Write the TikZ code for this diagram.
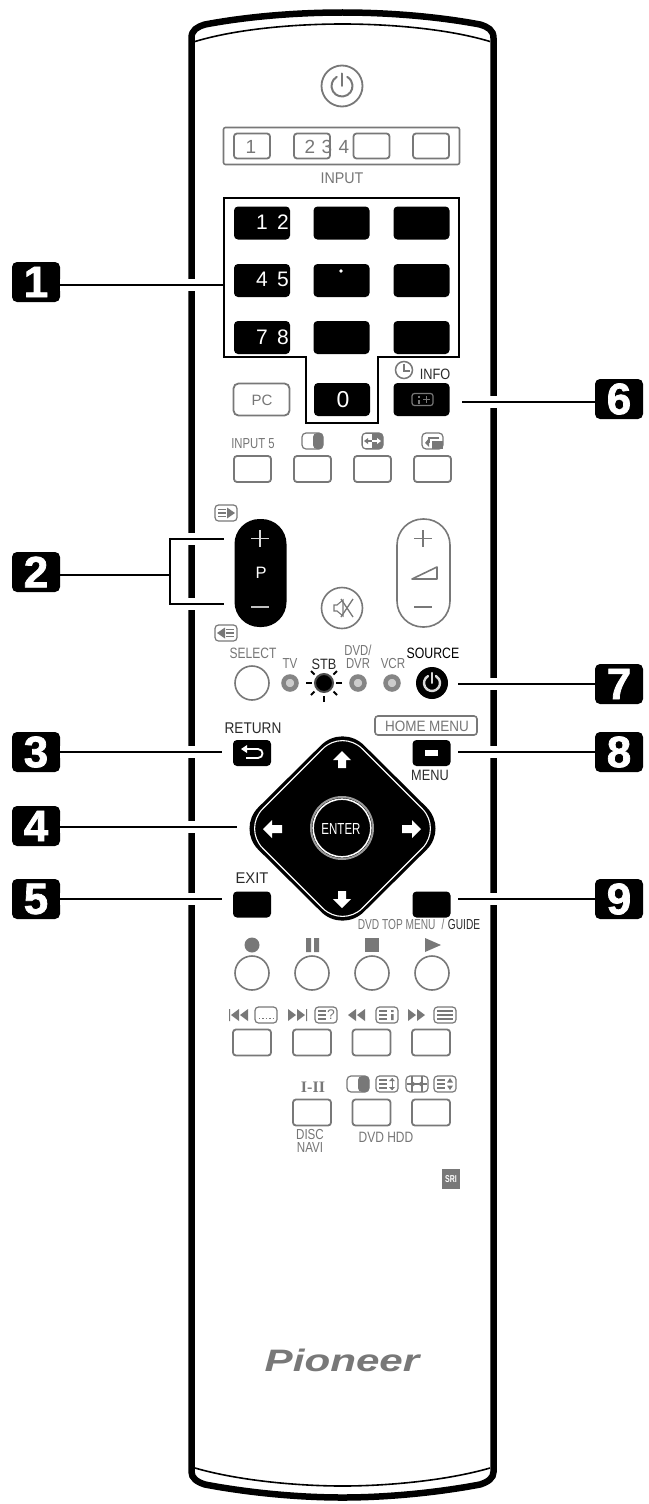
\documentclass[tikz,border=0pt]{standalone}
\usepackage{fontspec}
\usepackage{graphicx}
\setmainfont{Liberation Sans}
\newfontfamily\serifone{Liberation Serif}
\newfontfamily\heavy[FakeBold=1.6]{Liberation Sans Bold}
\definecolor{gk}{HTML}{787878}
\definecolor{gt}{HTML}{767676}
\definecolor{dk}{HTML}{2A2A2A}
\newcounter{tn}
\newcommand\tx[5]{\stepcounter{tn}\node[inner sep=0pt,text=#4] (t\arabic{tn}) at (#1) {\fontsize{#2}{#2}\selectfont\scalebox{#3}[1]{#5}};}
\newcommand\gbtn[5][]{\node[gbox,minimum width=#3pt,minimum height=#4pt,#1] (#2) at (#5) {};}
\newcommand\bbtn[5][]{\node[kbox,minimum width=#3pt,minimum height=#4pt,#1] (#2) at (#5) {};}
\newcommand\badge[3]{\node[badgebox] (#1) at (#2) {#3};}
\newcommand\powersym[5]{\begin{scope}[shift={(#1,#2)},x=1pt,y=1pt]
\draw[#4,line width=#5pt,line cap=round] (120:#3) arc[start angle=120,end angle=420,radius=#3pt];
\draw[#4,line width=#5pt,line cap=round] (0,0.1) -- (0,#3+2);
\end{scope}}
\newcommand\screen[3]{\begin{scope}[shift={(#1,#2)}]
\draw[gk,line width=1.2pt,rounded corners=3.5pt] (-11,-8) rectangle (11,8);
#3
\end{scope}}
\newcommand\lns{\draw[gk,line width=1.2pt] (-8,-4) -- (0,-4) (-8,0) -- (0,0) (-8,4) -- (0,4);}
\newcommand\fullns{\draw[gk,line width=1.2pt] (-8,-4) -- (8,-4) (-8,0) -- (8,0) (-8,4) -- (8,4);}
\tikzset{
 gbox/.style={draw=gk,line width=1.8pt,rounded corners=3pt,inner sep=0pt,fill=white},
 kbox/.style={fill=black,rounded corners=4pt,inner sep=0pt},
 badgebox/.style={fill=black,rounded corners=5pt,minimum width=48pt,minimum height=40pt,inner sep=0pt,text=white,font=\fontsize{44}{44}\selectfont\heavy},
 conn/.style={line width=2.4pt,black,preaction={draw=white,line width=12pt}},
 wire/.style={line width=2.4pt,black},
 led/.style={circle,draw=gk!90!white,line width=4.5pt,fill=black!20,minimum size=13pt,inner sep=0pt},
 digit/.style={inner sep=0pt,text=white,font=\fontsize{21}{21}\selectfont},
}
\begin{document}
\begin{tikzpicture}[x=1pt,y=-1pt]
\useasboundingbox (0,0) rectangle (648,1504);
\fill[white] (0,0) rectangle (648,1504);
% body
\draw[line width=6.5pt,black] (191.5,1472) -- (191.5,38) .. controls (191.5,30) and (197,27) .. (205,24.5) .. controls (250,16) and (300,12.5) .. (342.5,12.5) .. controls (385,12.5) and (435,16) .. (480,24.5) .. controls (488,27) and (493.5,30) .. (493.5,38) -- (493.5,1472) .. controls (493.5,1478) and (488,1482) .. (480,1484.5) .. controls (435,1493) and (385,1497.5) .. (342.5,1497.5) .. controls (300,1497.5) and (250,1493) .. (205,1484.5) .. controls (197,1482) and (191.5,1478) .. (191.5,1472) -- cycle;
\draw[line width=1.6pt,black] (195,41.5) .. controls (240,28) and (300,24) .. (342.5,24) .. controls (385,24) and (445,28) .. (490,41.5);
\draw[line width=1.6pt,black] (195,1468) .. controls (240,1481) and (300,1486) .. (342.5,1486) .. controls (385,1486) and (445,1481) .. (490,1468);
% badges
\badge{b1}{36,282}{1}
\badge{b2}{36,572}{2}
\badge{b3}{36,752}{3}
\badge{b4}{36,826}{4}
\badge{b5}{36,899}{5}
\badge{b6}{619,399}{6}
\badge{b7}{619,684}{7}
\badge{b8}{619,752}{8}
\badge{b9}{619,899}{9}
% connector targets
\coordinate (c1) at (225,285);
\coordinate (c2u) at (224,539);
\coordinate (c2d) at (224,604);
\coordinate (c2a) at (170,539);
\coordinate (c2b) at (170,604);
\coordinate (c2m) at (170,575);
\coordinate (c3) at (222,752);
\coordinate (c4) at (237,827);
\coordinate (c5) at (222,899);
\coordinate (c6) at (462,402);
\coordinate (c7) at (458,684);
\coordinate (c8) at (458,752);
\coordinate (c9) at (458,899);
\draw[conn] (b1.east |- c1) -- (c1);
\draw[conn] (c2a) -- (c2u);
\draw[conn] (c2b) -- (c2d);
\draw[wire] (170,537.8) -- (170,605.2);
\draw[wire] (b2.east |- c2m) -- (c2m);
\draw[conn] (b3.east |- c3) -- (c3);
\draw[conn] (b4.east |- c4) -- (c4);
\draw[conn] (b5.east |- c5) -- (c5);
\draw[conn] (c6) -- (b6.west |- c6);
\draw[conn] (c7) -- (b7.west |- c7);
\draw[conn] (c8) -- (b8.west |- c8);
\draw[conn] (c9) -- (b9.west |- c9);
% power
\node[circle,draw=gk,line width=1.8pt,minimum size=41pt,inner sep=0pt] (pw) at (342,86) {};
\powersym{342}{86}{10.5}{gk}{2}
% input
\node[draw=gk,line width=1.6pt,rounded corners=2pt,minimum width=236pt,minimum height=37pt,inner sep=0pt] (inputbox) at (341.5,146) {};
\gbtn{in1}{36}{25}{252,146}
\gbtn{in2}{36}{25}{312,146}
\gbtn{in3}{36}{25}{371.5,146}
\gbtn{in4}{36}{25}{431,146}
\tx{251,147}{19}{1}{gk}{1}
\tx{310,147}{19}{1}{gk}{2}
\tx{327,147}{19}{1}{gk}{3}
\tx{344,147}{19}{1}{gk}{4}
\tx{342,178}{15.5}{.92}{gt}{INPUT}
% frame 1
\draw[line width=2pt,black] (224,198) -- (459,198) -- (459,357) -- (378,357) -- (378,423) -- (306,423) -- (306,357) -- (224,357) -- cycle;
% number pad
\bbtn{k1}{56}{33}{262,223}
\bbtn{k2}{56}{33}{341.5,223}
\bbtn{k3}{56}{33}{421.5,223}
\bbtn{k4}{56}{33}{262,280.5}
\bbtn{k5}{56}{33}{341.5,280.5}
\bbtn{k6}{56}{33}{421.5,280.5}
\bbtn{k7}{56}{33}{262,337.5}
\bbtn{k8}{56}{33}{341.5,337.5}
\bbtn{k9}{56}{33}{421.5,337.5}
\bbtn{k0}{56}{33}{342,399.5}
\bbtn{kinfo}{56}{33}{421.5,399.5}
\node[digit] (d1) at (262,222) {1};
\node[digit] (d2) at (283,222) {2};
\node[digit] (d4) at (262,279) {4};
\node[digit] (d5) at (283,279) {5};
\node[digit] (d7) at (262,337) {7};
\node[digit] (d8) at (283,337) {8};
\fill[white] (341,271) circle (1.8);
\node[digit,font=\fontsize{23}{23}\selectfont] (d0) at (343,400) {0};
% info
\draw[gk,line width=1.2pt,rounded corners=2.5pt] (412,393.5) rectangle (433,405.5);
\draw[gk,line width=1.4pt] (419,395.5) -- (419,398) (419,400) -- (419,404);
\draw[gk,line width=1.4pt] (423,399.5) -- (430,399.5) (426.5,396) -- (426.5,403);
\node[circle,draw=gk,line width=1.5pt,minimum size=17pt,inner sep=0pt] (clk) at (404,370) {};
\draw[gk,line width=1.2pt] (404,364) -- (404,371) -- (410,371);
\tx{435,374}{15}{.85}{dk}{INFO}
% PC row
\gbtn[rounded corners=5pt]{pc}{56}{32}{261.5,399.5}
\tx{262,400}{15}{1}{gt}{PC}
\gbtn{f1}{37}{26}{252.5,469}
\gbtn{f2}{37}{26}{312.5,469}
\gbtn{f3}{37}{26}{372.5,469}
\gbtn{f4}{37}{26}{432.5,469}
\tx{253,444}{14.5}{.78}{gt}{INPUT 5}
\draw[gk,line width=1.2pt,rounded corners=4pt] (302,433) rectangle (323,449);
\fill[gk,rounded corners=4pt] (313,433) rectangle (323,449);
\fill[gk,rounded corners=4pt] (362,433) rectangle (383,449);
\fill[white] (362.8,434) rectangle (372,448);
\draw[gk,line width=1.2pt,rounded corners=4pt] (362,433) rectangle (383,449);
\draw[gk,line width=1.2pt] (366,441) -- (372,441);
\draw[white,line width=1.2pt] (372,441) -- (379,441);
\fill[gk] (364,441) -- (368,438) -- (368,444) -- cycle;
\fill[white] (381,441) -- (377,438) -- (377,444) -- cycle;
\draw[gk,line width=1.2pt,rounded corners=4pt] (422,433) rectangle (443,449);
\fill[gk] (432,441) rectangle (443,449);
\draw[gk,line width=1.5pt] (439,438) -- (429,438) -- (429,443);
\fill[gk] (425,443) -- (429,438) -- (429,447) -- cycle;
% P rocker
\node[fill=black,rounded corners=25pt,minimum width=52pt,minimum height=108pt,inner sep=0pt] (prock) at (260.5,573) {};
\draw[white!85!black,line width=1.8pt] (251,538.5) -- (269,538.5) (260,530) -- (260,547);
\draw[white!75!black,line width=1.8pt] (251,607) -- (269,607);
\node[inner sep=0pt,text=white,font=\fontsize{16.5}{16.5}\selectfont] (plabel) at (261,573) {P};
\screen{226}{513}{\draw[gk,line width=1.1pt] (-8,-3.5) -- (0,-3.5) (-8,0) -- (0,0) (-8,3.5) -- (0,3.5);\fill[gk] (1,-5.5) -- (9,0) -- (1,5.5) -- cycle;}
\screen{226}{633}{\draw[gk,line width=1.1pt] (0,-3.5) -- (8,-3.5) (0,0) -- (8,0) (0,3.5) -- (8,3.5);\fill[gk] (-1,-5.5) -- (-9,0) -- (-1,5.5) -- cycle;}
% vol rocker
\node[draw=gk,line width=1.6pt,rounded corners=26pt,minimum width=53pt,minimum height=108pt,inner sep=0pt] (vrock) at (423.5,573) {};
\draw[gk,line width=1.6pt] (414,538.5) -- (432,538.5) (423,530) -- (423,547);
\draw[gk,line width=1.6pt] (414,607) -- (432,607);
\draw[gk,line width=1.6pt,line join=round] (412,579) -- (437,567) -- (437,579) -- cycle;
% mute
\node[circle,draw=gk,line width=1.6pt,minimum size=41pt,inner sep=0pt] (mute) at (342,608) {};
\draw[gk,line width=1.1pt] (334,605) -- (337,605) -- (343,600) -- (343,616) -- (337,611) -- (334,611) -- cycle;
\draw[gk,line width=1.3pt] (341,599) -- (353,617) (353,599) -- (341,617);
% select row
\tx{253,653}{15}{.8}{gt}{SELECT}
\node[circle,draw=gk,line width=1.6pt,minimum size=34pt,inner sep=0pt] (sel) at (252,683) {};
\tx{290,664}{14.5}{.8}{gt}{TV}
\tx{324,664}{15}{.85}{dk}{STB}
\tx{358,650}{14.5}{.78}{gt}{DVD/}
\tx{358,664}{14.5}{.78}{gt}{DVR}
\tx{393,664}{14.5}{.8}{gt}{VCR}
\tx{433,653}{15}{.82}{black}{SOURCE}
\node[led] (ltv) at (290,683) {};
\node[led] (ldvd) at (358,683) {};
\node[led] (lvcr) at (392,683) {};
\node[circle,fill=black,minimum size=18pt,inner sep=0pt,draw=black!70,line width=2pt] (lstb) at (324,683) {};
\foreach \dx/\dy/\ex/\ey in {-18/0/-12/0,18/0/12/0,0/19/0/13,-13/12/-9.5/8.5,13/12/9.5/8.5,-13/-12/-9.5/-8.5,13/-12/9.5/-8.5}
  \draw[black,line width=2pt] (324+\dx,683+\dy) -- (324+\ex,683+\ey);
\node[circle,fill=black,minimum size=32pt,inner sep=0pt] (srcb) at (432,683) {};
\powersym{432}{683}{8}{white!85!black}{2.4}
% return / menu
\tx{253,728}{15.5}{.88}{dk}{RETURN}
\bbtn{ret}{38}{26}{252,753}
\draw[white,line width=1.8pt] (246,749) -- (258,749) .. controls (264,749) and (264,758) .. (258,758) -- (246,758);
\fill[white] (241,749) -- (247,745) -- (247,753) -- cycle;
\node[draw=gk,line width=1.6pt,rounded corners=3pt,minimum width=102pt,minimum height=19pt,inner sep=0pt] (home) at (426,725.5) {};
\tx{427,726}{15}{.9}{gt}{HOME MENU}
\bbtn{menu}{38}{26}{431.5,753}
\fill[white] (425,750) rectangle (438,756);
\tx{430,775}{15}{.85}{dk}{MENU}
% d-pad
\fill[black,rounded corners=30pt] (342.5,724) -- (448,828.5) -- (342.5,933) -- (237,828.5) -- cycle;
\draw[white,line width=1.1pt,rounded corners=28pt] (342.5,729) -- (442,828.5) -- (342.5,928) -- (243,828.5) -- cycle;
\fill[white] (342,751) -- (351,760) -- (346,760) -- (346,768) -- (338,768) -- (338,760) -- (333,760) -- cycle;
\fill[white] (342,908) -- (351,899) -- (346,899) -- (346,891) -- (338,891) -- (338,899) -- (333,899) -- cycle;
\fill[white] (263,829) -- (272,820) -- (272,825) -- (282,825) -- (282,833) -- (272,833) -- (272,838) -- cycle;
\fill[white] (421,829) -- (412,820) -- (412,825) -- (402,825) -- (402,833) -- (412,833) -- (412,838) -- cycle;
\node[circle,fill=black,draw=white!60!black,line width=2pt,minimum size=62pt,inner sep=0pt] (enterring) at (342,828) {};
\draw[white,line width=1.5pt] (342,828) circle (28.8);
\tx{341,829}{16}{.72}{white}{ENTER}
% exit / guide
\tx{252,878}{15.5}{.95}{dk}{EXIT}
\bbtn{exit}{38}{26}{252,904.5}
\bbtn{guide}{38}{26}{431.5,904.5}
\node[inner sep=0pt] (dvdtop) at (419,924) {\fontsize{14.5}{14.5}\selectfont\scalebox{.7}[1]{\textcolor{gt}{DVD TOP MENU}\hspace{.6em}\textcolor{gt}{/}\hspace{.35em}\textcolor{dk}{GUIDE}}};
% transport
\foreach \n/\cx in {a/252,b/312,c/372,d/432}
  \node[circle,draw=gk,line width=1.6pt,minimum size=34pt,inner sep=0pt] (tr\n) at (\cx,973) {};
\fill[gk] (252,945) circle (7.5);
\fill[gk] (306,938) rectangle (311,952) (314,938) rectangle (319,952);
\fill[gk] (365,938) rectangle (379,952);
\fill[gk] (425,938) -- (441,945) -- (425,952) -- cycle;
% row 2
\gbtn{r1}{38}{26}{252,1042.5}
\gbtn{r2}{38}{26}{312,1042.5}
\gbtn{r3}{38}{26}{371.5,1042.5}
\gbtn{r4}{38}{26}{431,1042.5}
\fill[gk] (229,1009) rectangle (230.2,1021) (231,1015) -- (239,1009) -- (239,1021) -- cycle (240,1015) -- (248,1009) -- (248,1021) -- cycle;
\screen{266}{1015}{\draw[gk,line width=1.4pt,dotted] (-7,3.5) -- (7,3.5);}
\fill[gk] (288,1009) -- (296,1015) -- (288,1021) -- cycle (297,1009) -- (305,1015) -- (297,1021) -- cycle (306,1009) rectangle (307.2,1021);
\screen{326}{1015}{\lns\node[inner sep=0pt,text=gk,font=\fontsize{14}{14}\selectfont] (qm) at (5,0) {?};}
\fill[gk] (348,1015) -- (356,1009) -- (356,1021) -- cycle (357,1015) -- (365,1009) -- (365,1021) -- cycle;
\screen{387}{1015}{\lns\fill[gk] (4,-5) rectangle (6.5,-3) (4,-1) rectangle (6.5,5);}
\fill[gk] (408,1009) -- (416,1015) -- (408,1021) -- cycle (417,1009) -- (425,1015) -- (417,1021) -- cycle;
\screen{445}{1015}{\fullns}
% row 3
\gbtn{s2}{38}{26}{312,1112.5}
\gbtn{s3}{38}{26}{371.5,1112.5}
\gbtn{s4}{38}{26}{431,1112.5}
\node[inner sep=0pt,text=gk,font=\fontsize{16}{16}\selectfont\serifone\bfseries] (i2) at (313,1087) {I-II};
\draw[gk,line width=1.2pt,rounded corners=4pt] (347,1076) rectangle (369,1092);
\fill[gk,rounded corners=4pt] (358,1076) rectangle (369,1092);
\screen{387}{1084}{\lns\draw[gk,line width=1pt] (5,-6) -- (5,6);\fill[gk] (5,-6) -- (2,-3) -- (8,-3) -- cycle (5,6) -- (2,3) -- (8,3) -- cycle;}
\begin{scope}[shift={(417,1084)}]
\draw[gk,line width=1.2pt,rounded corners=4pt] (-11,-8) rectangle (11,8);
\draw[gk,line width=1.2pt] (-5,-8) -- (-5,8) (5,-8) -- (5,8) (-10,0) -- (10,0);
\fill[gk] (-1,0) -- (-5,-3) -- (-5,3) -- cycle (1,0) -- (5,-3) -- (5,3) -- cycle;
\end{scope}
\screen{445}{1084}{\lns\fill[gk] (5,-6) -- (2,-1.5) -- (8,-1.5) -- cycle (5,6) -- (2,1.5) -- (8,1.5) -- cycle;}
\tx{310,1134}{14.5}{.8}{gt}{DISC}
\tx{310,1147}{14.5}{.8}{gt}{NAVI}
\tx{386,1137}{15}{.8}{gt}{DVD HDD}
% SRI
\node[fill=gk,minimum width=18pt,minimum height=20pt,inner sep=0pt,text=white,font=\fontsize{10}{10}\selectfont\bfseries] (sri) at (451,1179) {\scalebox{.7}[1]{SRI}};
% logo
\node[inner sep=0pt,text=gk,font=\fontsize{31}{31}\selectfont\bfseries\itshape] (logo) at (342,1360) {\scalebox{1.36}[1]{Pioneer}};
\end{tikzpicture}
\end{document}
